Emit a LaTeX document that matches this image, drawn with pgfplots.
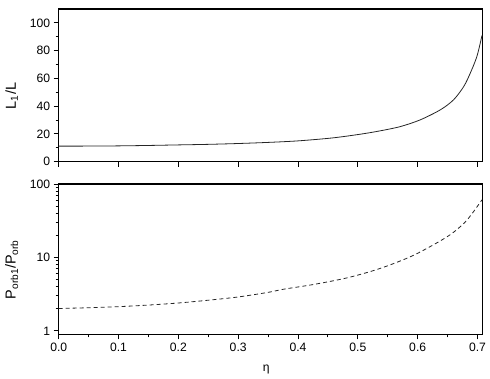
\documentclass[border=0pt]{standalone}
\usepackage{fontspec}
\setmainfont{Liberation Sans}
\usepackage{pgfplots}
\pgfplotsset{compat=1.18}

\pgfplotsset{
  panel/.style={
    scale only axis,
    width=423.6bp,
    xmin=0, xmax=0.708,
    axis line style={line width=1.1bp},
    tick align=outside,
    xtick pos=bottom, ytick pos=left,
    major tick length=5bp, minor tick length=3bp,
    every tick/.style={line width=0.9bp, black},
    xtick={0,0.1,0.2,0.3,0.4,0.5,0.6,0.7},
    tick label style={font=\fontsize{12.2}{14}\selectfont},
    /pgf/number format/assume math mode=true,
    every axis y label/.style={at={(axis description cs:-0.111,0.43)}, rotate=90, anchor=center,
      font=\fontsize{14.5}{16}\selectfont},
  }
}

\begin{document}
\begin{tikzpicture}
\path[use as bounding box] (0bp,0bp) rectangle (490bp,379bp);

% top panel: L1/L
\begin{axis}[panel,
  at={(58.7bp,217.3bp)}, anchor=south west,
  height=152.7bp,
  ymin=0, ymax=110,
  ytick={0,20,40,60,80,100},
  minor y tick num=1,
  xticklabels={},
  ylabel={L\textsubscript{1}/L},
]
\addplot[black!85, line width=0.8bp, smooth] coordinates {
  (0,11.2) (0.05,11.25) (0.1,11.4) (0.15,11.7) (0.2,12.1) (0.25,12.5)
  (0.3,13.1) (0.35,13.9) (0.4,15.0) (0.457,17.1) (0.504,19.8) (0.537,22.2)
  (0.571,25.3) (0.604,30.1) (0.638,37.4) (0.660,44.6) (0.677,54.2)
  (0.688,63.9) (0.699,75.9) (0.7075,91)
};
\end{axis}

% bottom panel: Porb1/Porb
\begin{axis}[panel,
  at={(58.7bp,44.7bp)}, anchor=south west,
  height=150.3bp,
  ymode=log,
  ymin=0.9, ymax=100,
  ytick={1,10,100},
  yticklabels={1,10,100},
  minor x tick num=1,
  xticklabels={0.0,0.1,0.2,0.3,0.4,0.5,0.6,0.7},
  ylabel={P\textsubscript{orb1}/P\textsubscript{orb}},
  xlabel={η},
  every axis x label/.style={at={(axis description cs:0.49,-0.233)}, anchor=center,
    font=\fontsize{12.2}{14}\selectfont},
]
\addplot[black!85, line width=0.8bp, smooth, dash pattern=on 4bp off 3bp] coordinates {
  (0,2.02) (0.05,2.07) (0.1,2.14) (0.15,2.25) (0.2,2.40) (0.25,2.62)
  (0.3,2.90) (0.35,3.35) (0.376,3.70) (0.426,4.29) (0.482,5.28)
  (0.537,7.08) (0.593,10.7) (0.649,19.1) (0.677,29.0) (0.693,41.7)
  (0.7075,61)
};
\end{axis}
\end{tikzpicture}
\end{document}
